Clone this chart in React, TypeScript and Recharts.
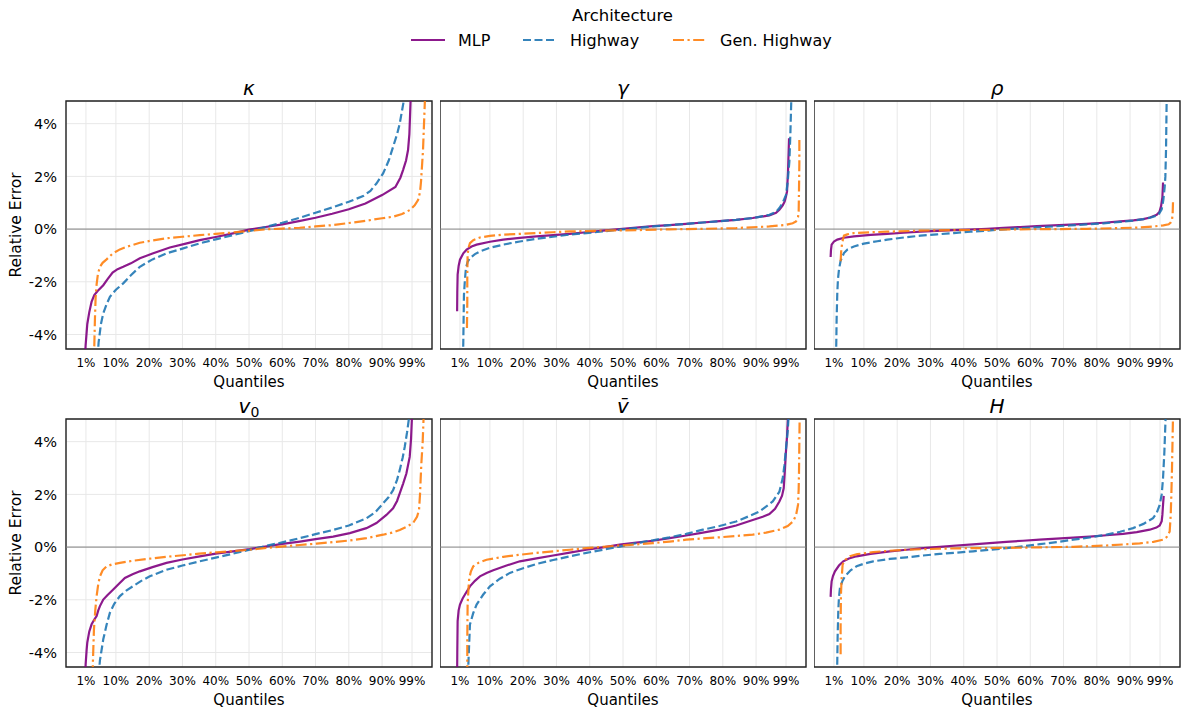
import React from "react";
import {
  LineChart,
  Line,
  XAxis,
  YAxis,
  CartesianGrid,
  ReferenceLine,
  ReferenceArea,
} from "recharts";

type Pt = [number, number]; // [quantile, relative error in %]

// Axis ticks
const Q_TICKS = [0.01, 0.1, 0.2, 0.3, 0.4, 0.5, 0.6, 0.7, 0.8, 0.9, 0.99];
const ERR_TICKS = [-4, -2, 0, 2, 4];
const Q_DOMAIN: [number, number] = [-0.05, 1.05];
const ERR_DOMAIN: [number, number] = [-4.55, 4.86];

// kappa
const kappaMLP: Pt[] = [[0.007,-4.9],[0.009,-4.4],[0.014,-3.6],[0.02,-3.15],[0.027,-2.75],[0.035,-2.5],[0.045,-2.35],[0.062,-2.13],[0.075,-1.9],[0.09,-1.65],[0.105,-1.52],[0.122,-1.43],[0.145,-1.3],[0.172,-1.11],[0.21,-0.93],[0.262,-0.7],[0.31,-0.55],[0.352,-0.42],[0.4,-0.3],[0.452,-0.16],[0.5,-0.02],[0.55,0.08],[0.6,0.18],[0.65,0.3],[0.7,0.43],[0.75,0.58],[0.8,0.75],[0.85,0.97],[0.9,1.29],[0.94,1.6],[0.955,1.95],[0.963,2.24],[0.972,2.6],[0.978,3.0],[0.982,3.6],[0.986,5.0]];
const kappaHighway: Pt[] = [[0.045,-4.9],[0.048,-4.3],[0.055,-3.6],[0.062,-3.2],[0.072,-2.85],[0.082,-2.57],[0.1,-2.3],[0.122,-2.06],[0.145,-1.75],[0.172,-1.43],[0.21,-1.15],[0.252,-0.92],[0.3,-0.74],[0.352,-0.54],[0.4,-0.39],[0.452,-0.23],[0.5,-0.08],[0.55,0.08],[0.6,0.24],[0.65,0.42],[0.7,0.62],[0.75,0.82],[0.8,1.04],[0.843,1.25],[0.865,1.45],[0.883,1.73],[0.903,2.11],[0.92,2.6],[0.933,3.12],[0.945,3.6],[0.953,4.0],[0.96,4.5],[0.967,5.0]];
const kappaGen: Pt[] = [[0.035,-4.45],[0.037,-3.4],[0.039,-2.6],[0.042,-2.1],[0.046,-1.7],[0.052,-1.43],[0.06,-1.28],[0.072,-1.15],[0.09,-0.93],[0.112,-0.77],[0.14,-0.64],[0.172,-0.52],[0.21,-0.43],[0.252,-0.35],[0.3,-0.29],[0.352,-0.23],[0.4,-0.18],[0.452,-0.13],[0.5,-0.07],[0.552,-0.01],[0.6,0.02],[0.652,0.05],[0.7,0.1],[0.752,0.15],[0.8,0.23],[0.853,0.32],[0.9,0.41],[0.933,0.47],[0.96,0.57],[0.983,0.72],[0.998,0.9],[1.008,1.1],[1.014,1.4],[1.017,1.8],[1.02,2.4],[1.023,3.0],[1.026,4.0],[1.029,5.0]];

// gamma
const gammaMLP: Pt[] = [[0.0015,-3.12],[0.002,-2.4],[0.003,-1.73],[0.006,-1.4],[0.01,-1.16],[0.02,-0.92],[0.03,-0.78],[0.045,-0.66],[0.06,-0.59],[0.1,-0.48],[0.14,-0.4],[0.19,-0.33],[0.24,-0.28],[0.29,-0.23],[0.34,-0.18],[0.39,-0.12],[0.44,-0.06],[0.49,0.0],[0.54,0.06],[0.59,0.11],[0.64,0.15],[0.69,0.2],[0.74,0.25],[0.79,0.3],[0.84,0.35],[0.89,0.42],[0.94,0.52],[0.96,0.62],[0.97,0.73],[0.98,0.9],[0.986,1.05],[0.99,1.25],[0.993,1.43],[0.996,2.2],[0.999,3.45]];
const gammaHighway: Pt[] = [[0.019,-4.9],[0.02,-4.3],[0.021,-3.4],[0.022,-2.49],[0.025,-1.9],[0.028,-1.48],[0.033,-1.25],[0.04,-1.1],[0.055,-0.95],[0.07,-0.85],[0.1,-0.71],[0.14,-0.59],[0.19,-0.47],[0.24,-0.37],[0.29,-0.29],[0.34,-0.21],[0.39,-0.15],[0.44,-0.09],[0.49,-0.02],[0.54,0.04],[0.59,0.1],[0.64,0.15],[0.69,0.2],[0.74,0.25],[0.79,0.3],[0.84,0.35],[0.89,0.42],[0.94,0.54],[0.96,0.65],[0.97,0.8],[0.98,1.0],[0.99,1.3],[0.995,1.8],[1.0,2.56],[1.003,3.6],[1.006,5.0]];
const gammaGen: Pt[] = [[0.031,-3.75],[0.032,-2.8],[0.032,-1.8],[0.033,-0.97],[0.036,-0.7],[0.04,-0.53],[0.05,-0.42],[0.07,-0.32],[0.1,-0.26],[0.14,-0.21],[0.19,-0.18],[0.24,-0.15],[0.29,-0.12],[0.34,-0.09],[0.39,-0.075],[0.44,-0.06],[0.54,-0.04],[0.64,-0.01],[0.74,0.01],[0.84,0.04],[0.94,0.1],[0.99,0.16],[1.01,0.22],[1.02,0.29],[1.026,0.45],[1.028,0.67],[1.029,1.5],[1.03,2.5],[1.03,3.38]];

// rho
const rhoMLP: Pt[] = [[0.0,-1.06],[0.001,-0.8],[0.003,-0.59],[0.01,-0.47],[0.02,-0.4],[0.04,-0.33],[0.07,-0.28],[0.12,-0.22],[0.17,-0.18],[0.22,-0.14],[0.27,-0.1],[0.32,-0.07],[0.37,-0.04],[0.42,-0.015],[0.47,0.01],[0.52,0.045],[0.57,0.08],[0.62,0.11],[0.67,0.14],[0.72,0.17],[0.77,0.2],[0.82,0.24],[0.87,0.29],[0.91,0.33],[0.94,0.38],[0.96,0.44],[0.98,0.54],[0.988,0.65],[0.993,0.86],[0.997,1.2],[0.999,1.77]];
const rhoHighway: Pt[] = [[0.016,-4.9],[0.017,-4.3],[0.018,-3.4],[0.02,-2.42],[0.022,-1.9],[0.025,-1.54],[0.03,-1.2],[0.04,-0.91],[0.05,-0.78],[0.07,-0.66],[0.1,-0.55],[0.14,-0.46],[0.17,-0.4],[0.22,-0.32],[0.27,-0.25],[0.32,-0.2],[0.37,-0.15],[0.42,-0.1],[0.47,-0.06],[0.52,-0.01],[0.57,0.03],[0.62,0.07],[0.67,0.1],[0.72,0.14],[0.77,0.18],[0.82,0.22],[0.87,0.27],[0.91,0.32],[0.94,0.38],[0.965,0.45],[0.985,0.54],[0.995,0.75],[1.0,1.11],[1.004,1.6],[1.006,1.99],[1.008,3.0],[1.01,5.0]];
const rhoGen: Pt[] = [[0.03,-1.22],[0.031,-1.0],[0.032,-0.78],[0.035,-0.5],[0.04,-0.25],[0.05,-0.2],[0.07,-0.15],[0.12,-0.12],[0.17,-0.1],[0.27,-0.06],[0.37,-0.04],[0.47,-0.03],[0.57,-0.01],[0.67,0.0],[0.77,0.01],[0.87,0.04],[0.93,0.06],[0.97,0.1],[1.0,0.14],[1.016,0.18],[1.022,0.25],[1.026,0.35],[1.028,0.6],[1.029,1.05]];

// v0
const v0MLP: Pt[] = [[0.008,-4.9],[0.009,-4.45],[0.012,-3.9],[0.014,-3.62],[0.02,-3.2],[0.027,-2.93],[0.035,-2.75],[0.042,-2.62],[0.047,-2.4],[0.052,-2.24],[0.062,-1.99],[0.075,-1.82],[0.092,-1.61],[0.11,-1.38],[0.127,-1.17],[0.15,-1.03],[0.172,-0.92],[0.21,-0.76],[0.252,-0.6],[0.3,-0.47],[0.352,-0.35],[0.4,-0.25],[0.452,-0.16],[0.502,-0.08],[0.553,0.03],[0.6,0.12],[0.653,0.21],[0.7,0.3],[0.753,0.4],[0.803,0.53],[0.853,0.72],[0.883,0.91],[0.913,1.22],[0.933,1.47],[0.945,1.75],[0.953,2.04],[0.963,2.4],[0.973,2.79],[0.983,3.42],[0.987,4.1],[0.99,5.0]];
const v0Highway: Pt[] = [[0.048,-4.9],[0.052,-4.3],[0.062,-3.5],[0.072,-2.95],[0.082,-2.49],[0.095,-2.15],[0.112,-1.86],[0.13,-1.66],[0.152,-1.48],[0.175,-1.29],[0.202,-1.11],[0.252,-0.86],[0.3,-0.7],[0.352,-0.54],[0.4,-0.4],[0.452,-0.25],[0.502,-0.1],[0.553,0.05],[0.6,0.18],[0.653,0.34],[0.7,0.49],[0.753,0.65],[0.8,0.82],[0.853,1.09],[0.88,1.33],[0.903,1.66],[0.92,1.9],[0.933,2.16],[0.945,2.55],[0.953,2.92],[0.962,3.4],[0.968,3.8],[0.975,4.35],[0.982,5.0]];
const v0Gen: Pt[] = [[0.03,-4.9],[0.031,-4.3],[0.034,-3.12],[0.038,-2.4],[0.042,-1.86],[0.047,-1.4],[0.052,-1.11],[0.06,-0.88],[0.072,-0.73],[0.09,-0.65],[0.112,-0.6],[0.15,-0.52],[0.202,-0.44],[0.25,-0.37],[0.302,-0.31],[0.35,-0.25],[0.402,-0.2],[0.45,-0.15],[0.502,-0.1],[0.553,-0.03],[0.603,0.03],[0.653,0.08],[0.703,0.13],[0.753,0.19],[0.803,0.25],[0.853,0.34],[0.903,0.47],[0.93,0.55],[0.953,0.65],[0.975,0.78],[0.993,0.91],[1.005,1.15],[1.011,1.41],[1.014,2.0],[1.016,2.6],[1.018,3.17],[1.022,4.0],[1.025,5.0]];

// v bar
const vbarMLP: Pt[] = [[0.0015,-4.9],[0.002,-4.0],[0.003,-2.81],[0.006,-2.4],[0.01,-2.18],[0.018,-1.95],[0.025,-1.8],[0.04,-1.49],[0.055,-1.28],[0.07,-1.11],[0.09,-0.98],[0.11,-0.88],[0.15,-0.7],[0.19,-0.54],[0.24,-0.43],[0.29,-0.32],[0.34,-0.21],[0.39,-0.1],[0.44,-0.01],[0.49,0.09],[0.54,0.17],[0.59,0.24],[0.64,0.34],[0.69,0.44],[0.74,0.55],[0.79,0.66],[0.84,0.82],[0.89,1.03],[0.92,1.15],[0.94,1.25],[0.957,1.45],[0.97,1.73],[0.978,1.95],[0.983,2.23],[0.986,2.8],[0.989,3.49],[0.993,4.2],[0.996,5.0]];
const vbarHighway: Pt[] = [[0.034,-4.9],[0.036,-4.2],[0.04,-2.94],[0.05,-2.5],[0.06,-2.18],[0.08,-1.8],[0.1,-1.49],[0.13,-1.2],[0.16,-0.98],[0.2,-0.8],[0.24,-0.64],[0.29,-0.49],[0.34,-0.35],[0.39,-0.22],[0.44,-0.1],[0.49,0.02],[0.54,0.15],[0.59,0.26],[0.64,0.37],[0.69,0.5],[0.74,0.66],[0.79,0.8],[0.84,0.97],[0.88,1.18],[0.91,1.35],[0.95,1.73],[0.97,2.1],[0.98,2.61],[0.985,3.1],[0.99,3.75],[0.995,4.4],[0.998,5.0]];
const vbarGen: Pt[] = [[0.032,-4.9],[0.032,-3.5],[0.033,-2.18],[0.036,-1.5],[0.038,-1.17],[0.043,-0.92],[0.05,-0.73],[0.065,-0.6],[0.09,-0.48],[0.14,-0.37],[0.19,-0.29],[0.24,-0.22],[0.29,-0.16],[0.34,-0.1],[0.39,-0.04],[0.44,0.01],[0.49,0.06],[0.54,0.1],[0.59,0.15],[0.64,0.21],[0.69,0.28],[0.74,0.33],[0.79,0.37],[0.84,0.42],[0.89,0.47],[0.93,0.55],[0.97,0.66],[0.995,0.8],[1.011,0.97],[1.02,1.2],[1.026,1.6],[1.028,2.2],[1.029,2.86],[1.03,4.0],[1.031,5.0]];

// H
const hMLP: Pt[] = [[0.0,-1.89],[0.001,-1.6],[0.003,-1.3],[0.007,-1.1],[0.013,-0.92],[0.025,-0.7],[0.038,-0.54],[0.055,-0.43],[0.078,-0.35],[0.12,-0.26],[0.178,-0.16],[0.228,-0.1],[0.278,-0.04],[0.328,0.01],[0.378,0.06],[0.428,0.1],[0.478,0.15],[0.528,0.2],[0.578,0.24],[0.628,0.28],[0.679,0.32],[0.729,0.36],[0.779,0.4],[0.829,0.45],[0.879,0.5],[0.92,0.57],[0.959,0.66],[0.979,0.74],[0.989,0.82],[0.995,0.98],[0.997,1.22],[0.999,1.6],[1.001,1.94]];
const hHighway: Pt[] = [[0.019,-4.9],[0.02,-4.3],[0.021,-3.4],[0.023,-2.43],[0.025,-1.9],[0.028,-1.55],[0.035,-1.3],[0.043,-1.11],[0.06,-0.88],[0.078,-0.73],[0.1,-0.63],[0.128,-0.54],[0.178,-0.45],[0.228,-0.39],[0.278,-0.32],[0.328,-0.26],[0.378,-0.21],[0.428,-0.16],[0.478,-0.1],[0.529,-0.04],[0.579,0.03],[0.629,0.11],[0.679,0.19],[0.729,0.28],[0.779,0.37],[0.829,0.47],[0.87,0.58],[0.909,0.72],[0.94,0.88],[0.969,1.1],[0.98,1.3],[0.989,1.6],[0.995,2.0],[0.999,2.61],[1.003,3.6],[1.007,5.0]];
const hGen: Pt[] = [[0.03,-4.07],[0.03,-3.0],[0.031,-1.8],[0.033,-1.2],[0.036,-0.67],[0.042,-0.5],[0.058,-0.35],[0.08,-0.27],[0.128,-0.19],[0.178,-0.14],[0.228,-0.1],[0.328,-0.06],[0.428,-0.04],[0.529,-0.03],[0.629,-0.01],[0.729,0.01],[0.829,0.06],[0.929,0.14],[0.97,0.2],[0.999,0.28],[1.01,0.38],[1.019,0.59],[1.022,1.2],[1.024,1.98],[1.026,3.0],[1.029,5.0]];

const SERIES = [
  { name: "MLP", color: "#800080", dash: undefined as string | undefined },
  { name: "Highway", color: "#1f77b4", dash: "8 3.5" },
  { name: "Gen. Highway", color: "#ff7f0e", dash: "11 3.5 2.2 3.5" },
];

const PANELS = [
  { id: "kappa", title: "κ", sub: "", series: [kappaMLP, kappaHighway, kappaGen] },
  { id: "gamma", title: "γ", sub: "", series: [gammaMLP, gammaHighway, gammaGen] },
  { id: "rho", title: "ρ", sub: "", series: [rhoMLP, rhoHighway, rhoGen] },
  { id: "v0", title: "v", sub: "0", series: [v0MLP, v0Highway, v0Gen] },
  { id: "vbar", title: "v\u0304", sub: "", series: [vbarMLP, vbarHighway, vbarGen] },
  { id: "H", title: "H", sub: "", series: [hMLP, hHighway, hGen] },
];

// layout
const BOX_LEFT = [66, 440, 814];
const BOX_TOP = [101, 419];
const BOX_W = 366;
const BOX_H = 248;
const XAXIS_H = 30;
const PAD = 2;
const FONT = "DejaVu Sans";

const fmtQ = (v: number) => `${Math.round(v * 100)}%`;
const fmtErr = (v: number) => `${v}%`;

function Panel({ index }: { index: number }) {
  const panel = PANELS[index];
  const col = index % 3;
  const row = Math.floor(index / 3);
  const yw = col === 0 ? 66 : 0;
  const left = BOX_LEFT[col] - yw;
  return (
    <div style={{ position: "absolute", left, top: BOX_TOP[row] - PAD }}>
      <LineChart
        width={yw + BOX_W + PAD}
        height={PAD + BOX_H + XAXIS_H}
        margin={{ top: PAD, right: PAD, bottom: 0, left: 0 }}
      >
        <CartesianGrid stroke="#e8e8e8" strokeWidth={1} />
        <XAxis
          dataKey="q"
          type="number"
          domain={Q_DOMAIN}
          ticks={Q_TICKS}
          tickFormatter={fmtQ}
          allowDataOverflow
          height={XAXIS_H}
          axisLine={false}
          tickLine={false}
          tickSize={0}
          tickMargin={9}
          interval={0}
          tick={{ fill: "#000", fontSize: 12 }}
        />
        <YAxis
          type="number"
          domain={ERR_DOMAIN}
          ticks={ERR_TICKS}
          tickFormatter={fmtErr}
          allowDataOverflow
          width={yw}
          axisLine={false}
          tickLine={false}
          tickSize={0}
          tickMargin={9}
          interval={0}
          tick={col === 0 ? { fill: "#000", fontSize: 14.5 } : false}
        />
        <ReferenceLine y={0} stroke="#808080" strokeWidth={1} />
        {SERIES.map((s, i) => (
          <Line
            key={s.name}
            data={panel.series[i].map(([q, v]) => ({ q, v }))}
            dataKey="v"
            type="linear"
            stroke={s.color}
            strokeOpacity={0.9}
            strokeWidth={2.2}
            strokeDasharray={s.dash}
            dot={false}
            activeDot={false}
            isAnimationActive={false}
          />
        ))}
        <ReferenceArea
          x1={Q_DOMAIN[0]}
          x2={Q_DOMAIN[1]}
          y1={ERR_DOMAIN[0]}
          y2={ERR_DOMAIN[1]}
          fill="none"
          fillOpacity={0}
          stroke="#222"
          strokeOpacity={1}
          strokeWidth={1.4}
        />
      </LineChart>
    </div>
  );
}

function Overlay() {
  const legendX = [411, 523, 673];
  return (
    <svg
      width={1183}
      height={711}
      style={{ position: "absolute", left: 0, top: 0, pointerEvents: "none" }}
      fontFamily={FONT}
    >
      <text x={622.5} y={21} textAnchor="middle" fontSize={16.5} fill="#000">
        Architecture
      </text>
      {SERIES.map((s, i) => (
        <g key={s.name}>
          <line
            x1={legendX[i]}
            x2={legendX[i] + 34}
            y1={40}
            y2={40}
            stroke={s.color}
            strokeOpacity={0.9}
            strokeWidth={2.2}
            strokeDasharray={s.dash}
          />
          <text x={legendX[i] + 47} y={46} fontSize={16} fill="#000">
            {s.name}
          </text>
        </g>
      ))}
      {PANELS.map((p, i) => {
        const col = i % 3;
        const row = Math.floor(i / 3);
        const cx = BOX_LEFT[col] + BOX_W / 2;
        const top = BOX_TOP[row];
        return (
          <g key={p.id}>
            <text x={cx} y={top - 6} textAnchor="middle" fontSize={20} fill="#000">
              <tspan fontStyle="italic">{p.title}</tspan>
              {p.sub && (
                <tspan fontSize={14} dy={4}>
                  {p.sub}
                </tspan>
              )}
            </text>
            <text x={cx} y={top + BOX_H + 37.5} textAnchor="middle" fontSize={15} fill="#000">
              Quantiles
            </text>
            {col === 0 && (
              <text
                transform={`translate(20.5,${top + BOX_H / 2}) rotate(-90)`}
                textAnchor="middle"
                fontSize={15.5}
                fill="#000"
              >
                Relative Error
              </text>
            )}
          </g>
        );
      })}
    </svg>
  );
}

export default function App() {
  return (
    <div
      style={{
        position: "absolute",
        left: 0,
        top: 0,
        width: 1183,
        height: 711,
        background: "#fff",
        fontFamily: FONT,
      }}
    >
      {PANELS.map((p, i) => (
        <Panel key={p.id} index={i} />
      ))}
      <Overlay />
    </div>
  );
}
